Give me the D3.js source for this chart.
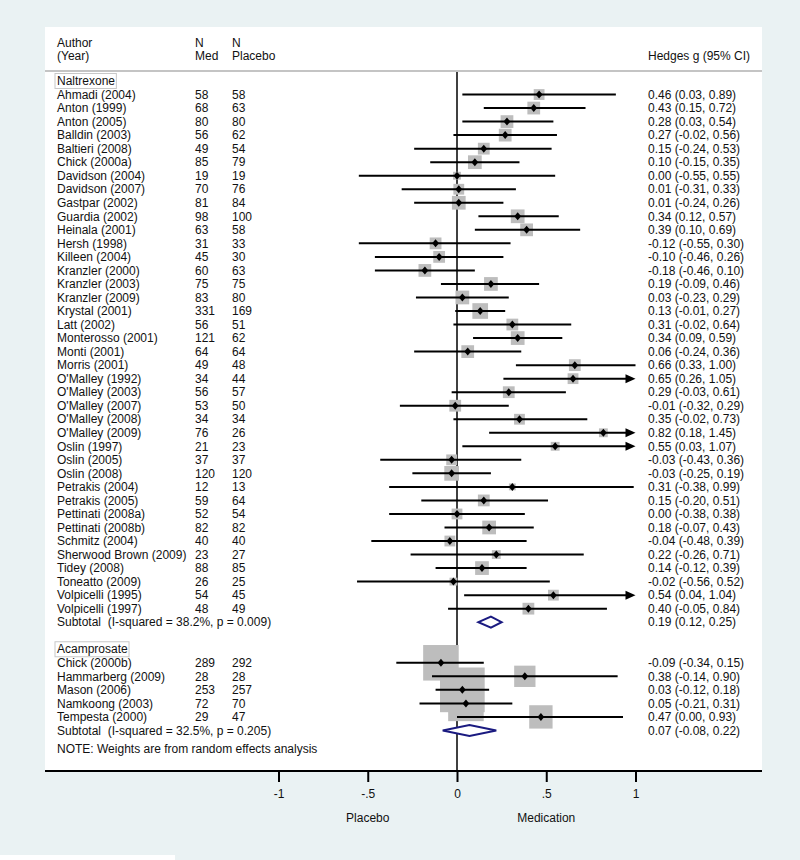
<!DOCTYPE html>
<html>
<head>
<meta charset="utf-8">
<script src="https://cdn.jsdelivr.net/npm/d3@7"></script>
<style>
    body { margin: 0; background: #eaf2f3; }
    svg { display: block; font-family: "Liberation Sans", Arial, sans-serif; }
    text { fill: #111; font-size: 12px; white-space: pre; }
</style>
</head>
<body>
<svg id="chart" width="800" height="860"></svg>
<script>
// Naltrexone studies
var naltStudies = ["Ahmadi (2004)", "Anton (1999)", "Anton (2005)", "Balldin (2003)", "Baltieri (2008)",
    "Chick (2000a)", "Davidson (2004)", "Davidson (2007)", "Gastpar (2002)", "Guardia (2002)",
    "Heinala (2001)", "Hersh (1998)", "Killeen (2004)", "Kranzler (2000)", "Kranzler (2003)",
    "Kranzler (2009)", "Krystal (2001)", "Latt (2002)", "Monterosso (2001)", "Monti (2001)",
    "Morris (2001)", "O'Malley (1992)", "O'Malley (2003)", "O'Malley (2007)", "O'Malley (2008)",
    "O'Malley (2009)", "Oslin (1997)", "Oslin (2005)", "Oslin (2008)", "Petrakis (2004)",
    "Petrakis (2005)", "Pettinati (2008a)", "Pettinati (2008b)", "Schmitz (2004)", "Sherwood Brown (2009)",
    "Tidey (2008)", "Toneatto (2009)", "Volpicelli (1995)", "Volpicelli (1997)"];
var naltMed = [58, 68, 80, 56, 49, 85, 19, 70, 81, 98, 63, 31, 45, 60, 75, 83, 331, 56, 121, 64,
    49, 34, 56, 53, 34, 76, 21, 37, 120, 12, 59, 52, 82, 40, 23, 88, 26, 54, 48];
var naltPlacebo = [58, 63, 80, 62, 54, 79, 19, 76, 84, 100, 58, 33, 30, 63, 75, 80, 169, 51, 62, 64,
    48, 44, 57, 50, 34, 26, 23, 37, 120, 13, 64, 54, 82, 40, 27, 85, 25, 45, 49];
var naltG = [0.46, 0.43, 0.28, 0.27, 0.15, 0.10, 0.00, 0.01, 0.01, 0.34, 0.39, -0.12, -0.10, -0.18, 0.19,
    0.03, 0.13, 0.31, 0.34, 0.06, 0.66, 0.65, 0.29, -0.01, 0.35, 0.82, 0.55, -0.03, -0.03, 0.31,
    0.15, 0.00, 0.18, -0.04, 0.22, 0.14, -0.02, 0.54, 0.40];
var naltLo = [0.03, 0.15, 0.03, -0.02, -0.24, -0.15, -0.55, -0.31, -0.24, 0.12, 0.10, -0.55, -0.46, -0.46, -0.09,
    -0.23, -0.01, -0.02, 0.09, -0.24, 0.33, 0.26, -0.03, -0.32, -0.02, 0.18, 0.03, -0.43, -0.25, -0.38,
    -0.20, -0.38, -0.07, -0.48, -0.26, -0.12, -0.56, 0.04, -0.05];
var naltHi = [0.89, 0.72, 0.54, 0.56, 0.53, 0.35, 0.55, 0.33, 0.26, 0.57, 0.69, 0.30, 0.26, 0.10, 0.46,
    0.29, 0.27, 0.64, 0.59, 0.36, 1.00, 1.05, 0.61, 0.29, 0.73, 1.45, 1.07, 0.36, 0.19, 0.99,
    0.51, 0.38, 0.43, 0.39, 0.71, 0.39, 0.52, 1.04, 0.84];
var naltWeight = [2.11, 2.94, 2.94, 2.94, 2.51, 3.41, 1.11, 2.11, 3.41, 3.41, 2.94, 2.51, 2.51, 2.94, 3.41,
    3.41, 4.45, 2.51, 3.41, 2.94, 2.51, 2.11, 2.51, 2.51, 2.11, 1.41, 1.41, 2.11, 3.92, 0.85,
    2.51, 2.11, 3.41, 2.11, 1.41, 3.41, 1.11, 2.11, 2.51];
var naltSubtotal = {g: 0.19, lo: 0.12, hi: 0.25, label: "Subtotal  (I-squared = 38.2%, p = 0.009)"};

// Acamprosate studies
var acampStudies = ["Chick (2000b)", "Hammarberg (2009)", "Mason (2006)", "Namkoong (2003)", "Tempesta (2000)"];
var acampMed = [289, 28, 253, 72, 29];
var acampPlacebo = [292, 28, 257, 70, 47];
var acampG = [-0.09, 0.38, 0.03, 0.05, 0.47];
var acampLo = [-0.34, -0.14, -0.12, -0.21, 0.00];
var acampHi = [0.15, 0.90, 0.18, 0.31, 0.93];
var acampWeight = [22.87, 8.23, 36.15, 22.87, 9.88];
var acampSubtotal = {g: 0.07, lo: -0.08, hi: 0.22, label: "Subtotal  (I-squared = 32.5%, p = 0.205)"};

var tickValues = [-1, -0.5, 0, 0.5, 1];
var tickLabels = ["-1", "-.5", "0", ".5", "1"];

// build rows: group header, studies, subtotal, blank
var rows = [];
function addGroup(name, studies, med, plac, g, lo, hi, w, sub) {
    rows.push({type: "group", label: name});
    studies.forEach(function (s, i) {
        rows.push({type: "study", label: s, med: med[i], plac: plac[i], g: g[i], lo: lo[i], hi: hi[i], w: w[i]});
    });
    rows.push({type: "subtotal", label: sub.label, g: sub.g, lo: sub.lo, hi: sub.hi});
    rows.push({type: "blank"});
}
addGroup("Naltrexone", naltStudies, naltMed, naltPlacebo, naltG, naltLo, naltHi, naltWeight, naltSubtotal);
addGroup("Acamprosate", acampStudies, acampMed, acampPlacebo, acampG, acampLo, acampHi, acampWeight, acampSubtotal);
rows.pop();
rows.forEach(function (d, i) { d.i = i; });

var panel = {left: 45, right: 762, top: 27, bottom: 771};
var svg = d3.select("#chart");

// white plot panel
svg.append("rect")
    .attr("x", panel.left).attr("y", panel.top)
    .attr("width", panel.right - panel.left).attr("height", panel.bottom - panel.top)
    .attr("fill", "#fff");
svg.append("rect")
    .attr("x", 0).attr("y", 855).attr("width", 175).attr("height", 5)
    .attr("fill", "#fff");

var xScale = d3.scaleLinear().domain([-1, 1]).range([278.5, 635.5]);
var yScale = d3.scaleLinear().domain([0, 1]).range([81, 94.53]);
var boxScale = d3.scaleSqrt().domain([0, 40]).range([0, 47]);
// plain hyphen for negatives, like the original
var fmt = d3.formatLocale({decimal: ".", thousands: ",", grouping: [3], currency: ["", ""], minus: "-"}).format(".2f");

var colName = 57, colMed = 195, colPlac = 232, colCI = 648;

// header
var header = svg.append("g");
[["Author", colName, 43], ["(Year)", colName, 56], ["N", colMed, 43], ["Med", colMed, 56],
 ["N", colPlac, 43], ["Placebo", colPlac, 56], ["Hedges g (95% CI)", colCI, 56]].forEach(function (h) {
    header.append("text").attr("x", h[1]).attr("y", h[2]).attr("dy", ".35em").text(h[0]);
});
svg.append("line")
    .attr("x1", panel.left).attr("x2", panel.right).attr("y1", 71).attr("y2", 71)
    .attr("stroke", "#c4c4c4").attr("stroke-width", 2);

// zero line
svg.append("line")
    .attr("x1", xScale(0)).attr("x2", xScale(0)).attr("y1", 72).attr("y2", panel.bottom)
    .attr("stroke", "#000").attr("stroke-width", 1.5);

var studies = rows.filter(function (d) { return d.type === "study"; });
var subtotals = rows.filter(function (d) { return d.type === "subtotal"; });

// weight boxes
svg.append("g").selectAll("rect").data(studies).enter()
    .append("rect")
    .attr("x", function (d) { return xScale(d.g) - boxScale(d.w) / 2; })
    .attr("y", function (d) { return yScale(d.i) - boxScale(d.w) / 2; })
    .attr("width", function (d) { return boxScale(d.w); })
    .attr("height", function (d) { return boxScale(d.w); })
    .attr("fill", "#bdbdbd");

// confidence intervals, arrow when clipped at the axis end
var xMax = xScale.domain()[1];
var ci = svg.append("g").selectAll("g").data(studies).enter().append("g");
ci.append("line")
    .attr("x1", function (d) { return xScale(d.lo); })
    .attr("x2", function (d) { return d.hi > xMax ? xScale(xMax) - 8 : xScale(d.hi); })
    .attr("y1", function (d) { return yScale(d.i); })
    .attr("y2", function (d) { return yScale(d.i); })
    .attr("stroke", "#000").attr("stroke-width", 2);
ci.filter(function (d) { return d.hi > xMax; })
    .append("path")
    .attr("d", function (d) {
        var x = xScale(xMax), y = yScale(d.i);
        return "M" + x + "," + y + "L" + (x - 10) + "," + (y - 4.5) + "L" + (x - 10) + "," + (y + 4.5) + "Z";
    })
    .attr("fill", "#000");
ci.append("path")
    .attr("d", function (d) {
        var x = xScale(d.g), y = yScale(d.i);
        return "M" + x + "," + (y - 4) + "L" + (x + 3.4) + "," + y + "L" + x + "," + (y + 4) + "L" + (x - 3.4) + "," + y + "Z";
    })
    .attr("fill", "#000");

// subtotal diamonds
svg.append("g").selectAll("path").data(subtotals).enter()
    .append("path")
    .attr("d", function (d) {
        var y = yScale(d.i);
        return "M" + xScale(d.lo) + "," + y + "L" + xScale(d.g) + "," + (y - 5.5) +
            "L" + xScale(d.hi) + "," + y + "L" + xScale(d.g) + "," + (y + 5.5) + "Z";
    })
    .attr("fill", "#fff").attr("stroke", "#1a1a80").attr("stroke-width", 2);

// text columns
var txt = svg.append("g");
rows.forEach(function (d) {
    var y = yScale(d.i);
    if (d.type === "group") {
        var t = txt.append("text").attr("x", colName).attr("y", y).attr("dy", ".35em").text(d.label);
        var bb = t.node().getBBox();
        txt.insert("rect", "text")
            .attr("x", bb.x - 2).attr("y", y - 7.5)
            .attr("width", bb.width + 3).attr("height", 15)
            .attr("fill", "none").attr("stroke", "#c8c8c8").attr("stroke-width", 1);
    } else if (d.type === "study") {
        txt.append("text").attr("x", colName).attr("y", y).attr("dy", ".35em").text(d.label);
        txt.append("text").attr("x", colMed).attr("y", y).attr("dy", ".35em").text(d.med);
        txt.append("text").attr("x", colPlac).attr("y", y).attr("dy", ".35em").text(d.plac);
        txt.append("text").attr("x", colCI).attr("y", y).attr("dy", ".35em")
            .text(fmt(d.g) + " (" + fmt(d.lo) + ", " + fmt(d.hi) + ")");
    } else if (d.type === "subtotal") {
        txt.append("text").attr("x", colName).attr("y", y).attr("dy", ".35em").text(d.label);
        txt.append("text").attr("x", colCI).attr("y", y).attr("dy", ".35em")
            .text(fmt(d.g) + " (" + fmt(d.lo) + ", " + fmt(d.hi) + ")");
    }
});
txt.append("text").attr("x", colName).attr("y", yScale(rows.length - 1 + 1.35)).attr("dy", ".35em")
    .text("NOTE: Weights are from random effects analysis");

// x axis
svg.append("line")
    .attr("x1", panel.left).attr("x2", panel.right).attr("y1", panel.bottom).attr("y2", panel.bottom)
    .attr("stroke", "#000").attr("stroke-width", 2);
var xAxis = d3.axisBottom(xScale)
    .tickValues(tickValues)
    .tickSize(11)
    .tickPadding(7)
    .tickFormat(function (d, i) { return tickLabels[i]; });
var ax = svg.append("g")
    .attr("transform", "translate(0," + panel.bottom + ")")
    .call(xAxis);
ax.select(".domain").remove();
ax.selectAll(".tick line").attr("stroke", "#000").attr("stroke-width", 2);
ax.selectAll(".tick text").attr("font-size", 12).attr("font-family", "Liberation Sans, Arial, sans-serif").attr("fill", "#111");

svg.append("text").attr("x", xScale(-0.5)).attr("y", 818).attr("dy", ".35em")
    .attr("text-anchor", "middle").text("Placebo");
svg.append("text").attr("x", xScale(0.5)).attr("y", 818).attr("dy", ".35em")
    .attr("text-anchor", "middle").text("Medication");
</script>
</body>
</html>
